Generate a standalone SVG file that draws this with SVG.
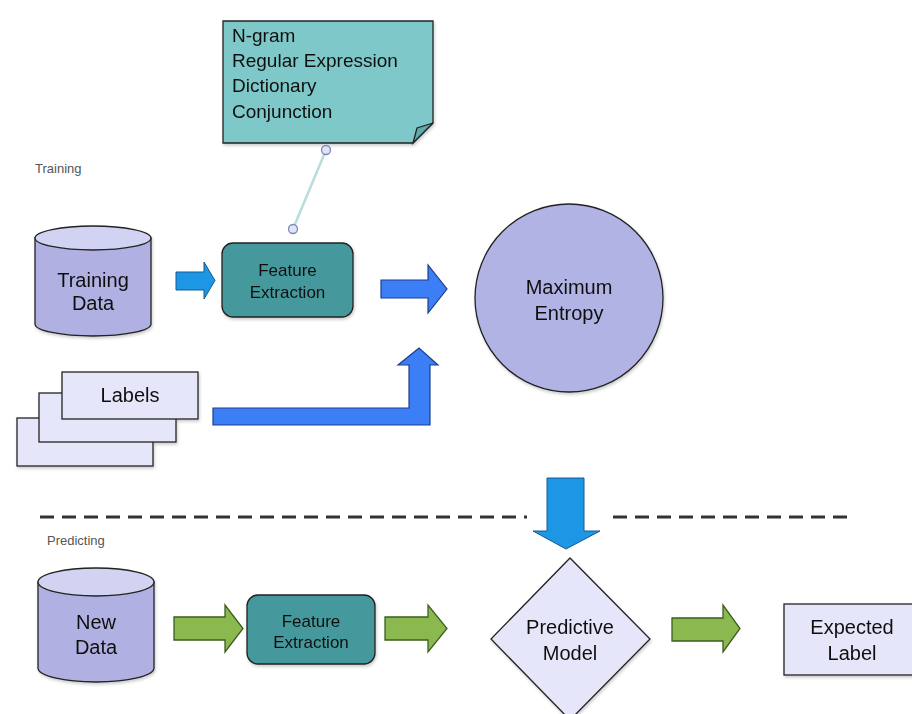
<svg xmlns="http://www.w3.org/2000/svg" width="912" height="714" viewBox="0 0 912 714">
<defs>
<style>
text{font-family:"Liberation Sans",Arial,sans-serif;fill:#111;text-anchor:middle}
.lbl{font-size:20px}
.fe{font-size:17px}
.sec{font-size:13px;fill:#555;text-anchor:start}
.note{font-size:19px;text-anchor:start}
.ln{stroke:#222;stroke-width:1.3}
.teal{fill:#44999c}
.lav{fill:#e6e6fa}
.cyl{fill:#b0b0e2}
.cyltop{fill:#d2d2f2}
.green{fill:#8bb94f;stroke:#3d5e1e;stroke-width:1.3}
.blue{fill:#3b7ef6;stroke:#1d3f8a;stroke-width:1.2}
.lblue{fill:#1e96e6;stroke:#155a90;stroke-width:1}
</style>
<filter id="sh" x="-10%" y="-10%" width="130%" height="130%">
<feDropShadow dx="1" dy="2" stdDeviation="1.5" flood-color="#000" flood-opacity="0.2"/>
</filter>
</defs>
<rect width="912" height="714" fill="#fff"/>

<text class="sec" x="35" y="173">Training</text>
<text class="sec" x="47" y="545">Predicting</text>

<g id="separator">
<line x1="40" y1="517" x2="527" y2="517" stroke="#333" stroke-width="3" stroke-dasharray="14,8"/>
<line x1="613" y1="517" x2="847" y2="517" stroke="#333" stroke-width="3" stroke-dasharray="14,8"/>
</g>

<g id="note" filter="url(#sh)">
<path d="M223,21 H433 V123 L413,143 H223 Z" fill="#7ec8c9" class="ln"/>
<path d="M433,123 L413,143 L417,128 Z" fill="#5eaaab" class="ln"/>
<text class="note" x="232" y="42">N-gram</text>
<text class="note" x="232" y="67">Regular Expression</text>
<text class="note" x="232" y="92">Dictionary</text>
<text class="note" x="232" y="118">Conjunction</text>
</g>

<g id="training-data" filter="url(#sh)">
<path d="M35,238 V324 A58,12 0 0 0 151,324 V238 Z" class="cyl ln"/>
<ellipse cx="93" cy="238" rx="58" ry="12" class="cyltop ln"/>
<text class="lbl" x="93" y="287">Training</text>
<text class="lbl" x="93" y="310">Data</text>
</g>

<g id="feature-extraction-1" filter="url(#sh)">
<rect x="222" y="243" width="131" height="74" rx="11" class="teal ln"/>
<text class="fe" x="287.5" y="276">Feature</text>
<text class="fe" x="287.5" y="298">Extraction</text>
</g>

<g id="maximum-entropy" filter="url(#sh)">
<circle cx="569" cy="298" r="94" fill="#b1b3e4" class="ln"/>
<text class="lbl" x="569" y="294">Maximum</text>
<text class="lbl" x="569" y="320">Entropy</text>
</g>

<g id="labels" filter="url(#sh)">
<rect x="17" y="418" width="136" height="48" class="lav ln"/>
<rect x="39" y="393" width="137" height="49" class="lav ln"/>
<rect x="62" y="372" width="136" height="47" class="lav ln"/>
<text class="lbl" x="130" y="402">Labels</text>
</g>

<g id="new-data" filter="url(#sh)">
<path d="M38,582 V668 A58,14 0 0 0 154,668 V582 Z" class="cyl ln"/>
<ellipse cx="96" cy="582" rx="58" ry="14" class="cyltop ln"/>
<text class="lbl" x="96" y="629">New</text>
<text class="lbl" x="96" y="654">Data</text>
</g>

<g id="feature-extraction-2" filter="url(#sh)">
<rect x="247" y="595" width="128" height="69" rx="11" class="teal ln"/>
<text class="fe" x="311" y="627">Feature</text>
<text class="fe" x="311" y="648">Extraction</text>
</g>

<g id="predictive-model" filter="url(#sh)">
<path d="M570,558 L650,639 L570,720 L491,639 Z" class="lav ln"/>
<text class="lbl" x="570" y="634">Predictive</text>
<text class="lbl" x="570" y="660">Model</text>
</g>

<g id="expected-label" filter="url(#sh)">
<rect x="784" y="604" width="130" height="71" class="lav ln"/>
<text class="lbl" x="852" y="634">Expected</text>
<text class="lbl" x="852" y="660">Label</text>
</g>

<g id="connectors">
<line x1="326" y1="150" x2="293" y2="229" stroke="#b9dcdc" stroke-width="2.5"/>
<circle cx="326" cy="150" r="4.5" fill="#dfe4f4" stroke="#7a88b8" stroke-width="1.3"/>
<circle cx="293" cy="229" r="4.5" fill="#dfe4f4" stroke="#7a88b8" stroke-width="1.3"/>

<path d="M176,272 H204 V262 L215,280.5 L204,299 V290 H176 Z" class="lblue"/>
<path d="M381,280 H428 V265 L447,289 L428,313 V298 H381 Z" class="blue"/>
<path d="M213,408 H409 V365 H398 L419,348 L438,365 H430 V425 H213 Z" class="blue"/>
<path d="M547,478 H584 V531 H600 L566,549 L533,531 H547 Z" class="lblue"/>

<path d="M174,617 H225 V605 L243,628.5 L225,652 V640 H174 Z" class="green"/>
<path d="M385,617 H428 V605 L447,628.5 L428,652 V640 H385 Z" class="green"/>
<path d="M672,618 H723 V605 L740,628.5 L723,652 V641 H672 Z" class="green"/>
</g>
</svg>
